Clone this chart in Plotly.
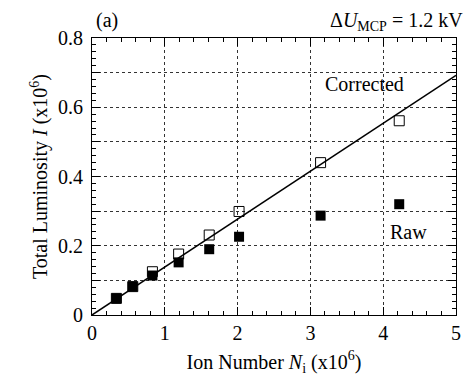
import plotly.graph_objects as go

ion_number = [0.335, 0.56, 0.83, 1.19, 1.61, 2.02, 3.14, 4.22]
raw = [0.048, 0.082, 0.114, 0.152, 0.190, 0.226, 0.287, 0.320]
corrected = [0.048, 0.082, 0.125, 0.176, 0.231, 0.299, 0.440, 0.561]
fit_x = [0, 5]
fit_y = [0, 0.692]

y_tickvals = [0, 0.1, 0.2, 0.3, 0.4, 0.5, 0.6, 0.7, 0.8]
y_ticktext = ["0", "", "0.2", "", "0.4", "", "0.6", "", "0.8"]
x_tickvals = [0, 1, 2, 3, 4, 5]
x_ticktext = ["0", "1", "2", "3", "4", "5"]

FONT = "Liberation Serif, Times New Roman, serif"
FS = 20

fig = go.Figure()
fig.add_trace(go.Scatter(x=fit_x, y=fit_y, mode="lines",
                         line=dict(color="black", width=1.5), showlegend=False))
fig.add_trace(go.Scatter(x=ion_number, y=corrected, mode="markers",
                         marker=dict(symbol="square-open", size=10, color="black",
                                     line=dict(width=1)), showlegend=False))
fig.add_trace(go.Scatter(x=ion_number, y=raw, mode="markers",
                         marker=dict(symbol="square", size=10, color="black"),
                         showlegend=False))

axis_common = dict(
    showline=True, linecolor="black", linewidth=1.2, mirror="ticks",
    ticks="inside", tickcolor="black", ticklen=8, tickwidth=1,
    showgrid=True, gridcolor="#333", griddash="dot", gridwidth=1,
    zeroline=False, tickfont=dict(family=FONT, size=FS, color="black"),
)

fig.update_xaxes(range=[0, 5], tickvals=x_tickvals, ticktext=x_ticktext,
                 minor=dict(dtick=0.2, ticks="inside", ticklen=4, tickcolor="black", showgrid=False),
                 title=dict(text="Ion Number <i>N</i><sub>i</sub> (x10<sup>6</sup>)",
                            font=dict(family=FONT, size=FS, color="black"), standoff=11),
                 **axis_common)
fig.update_yaxes(range=[0, 0.8], tickvals=y_tickvals, ticktext=y_ticktext,
                 ticklabelstandoff=4,
                 minor=dict(dtick=0.02, ticks="inside", ticklen=4, tickcolor="black", showgrid=False),
                 title=dict(text="Total Luminosity <i>I</i> (x10<sup>6</sup>)",
                            font=dict(family=FONT, size=FS, color="black"), standoff=4),
                 **axis_common)

fig.add_annotation(text="(a)", xref="paper", yref="paper", x=0.005, y=1.0,
                   xanchor="left", yanchor="bottom", showarrow=False, yshift=4,
                   font=dict(family=FONT, size=FS, color="black"))
fig.add_annotation(text="Δ<i>U</i><sub>MCP</sub> = 1.2 kV", xref="paper", yref="paper",
                   x=1.0, y=1.0, xanchor="right", yanchor="bottom", showarrow=False,
                   xshift=9, yshift=2, font=dict(family=FONT, size=FS, color="black"))
fig.add_annotation(text="Corrected", x=3.17, y=0.668, xanchor="left", yanchor="middle",
                   showarrow=False, font=dict(family=FONT, size=FS, color="black"))
fig.add_annotation(text="Raw", x=4.07, y=0.24, xanchor="left", yanchor="middle",
                   showarrow=False, font=dict(family=FONT, size=FS, color="black"))

fig.update_layout(width=470, height=378, margin=dict(l=92, r=9, t=38, b=63),
                  plot_bgcolor="white", paper_bgcolor="white",
                  font=dict(family=FONT, color="black"))

fig.write_html("out.html")
